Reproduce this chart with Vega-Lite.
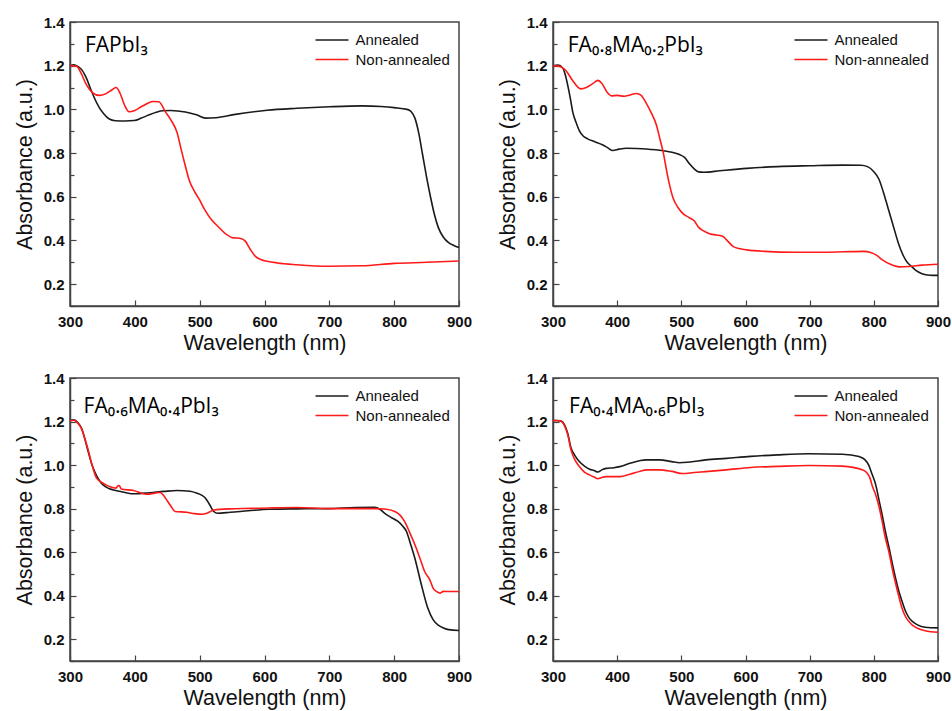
{
  "$schema": "https://vega.github.io/schema/vega-lite/v6.json",
  "background": "white",
  "padding": {"left": 13, "top": 14, "right": 5, "bottom": 5},
  "datasets": {
    "fapbi3": [
      {"series":"Annealed","wavelength":300,"absorbance":1.2},{"series":"Annealed","wavelength":306,"absorbance":1.204},{"series":"Annealed","wavelength":312,"absorbance":1.197},{"series":"Annealed","wavelength":318,"absorbance":1.182},{"series":"Annealed","wavelength":325,"absorbance":1.145},{"series":"Annealed","wavelength":332,"absorbance":1.092},{"series":"Annealed","wavelength":338,"absorbance":1.05},{"series":"Annealed","wavelength":345,"absorbance":1.009},{"series":"Annealed","wavelength":352,"absorbance":0.98},{"series":"Annealed","wavelength":360,"absorbance":0.957},{"series":"Annealed","wavelength":370,"absorbance":0.948},{"series":"Annealed","wavelength":385,"absorbance":0.947},{"series":"Annealed","wavelength":399,"absorbance":0.949},{"series":"Annealed","wavelength":410,"absorbance":0.96},{"series":"Annealed","wavelength":422,"absorbance":0.975},{"series":"Annealed","wavelength":433,"absorbance":0.987},{"series":"Annealed","wavelength":443,"absorbance":0.994},{"series":"Annealed","wavelength":455,"absorbance":0.995},{"series":"Annealed","wavelength":478,"absorbance":0.988},{"series":"Annealed","wavelength":495,"absorbance":0.975},{"series":"Annealed","wavelength":509,"absorbance":0.96},{"series":"Annealed","wavelength":525,"absorbance":0.962},{"series":"Annealed","wavelength":555,"absorbance":0.977},{"series":"Annealed","wavelength":604,"absorbance":0.996},{"series":"Annealed","wavelength":650,"absorbance":1.005},{"series":"Annealed","wavelength":700,"absorbance":1.012},{"series":"Annealed","wavelength":750,"absorbance":1.016},{"series":"Annealed","wavelength":780,"absorbance":1.013},{"series":"Annealed","wavelength":800,"absorbance":1.008},{"series":"Annealed","wavelength":820,"absorbance":1.0},{"series":"Annealed","wavelength":826,"absorbance":0.99},{"series":"Annealed","wavelength":832,"absorbance":0.96},{"series":"Annealed","wavelength":838,"absorbance":0.89},{"series":"Annealed","wavelength":844,"absorbance":0.79},{"series":"Annealed","wavelength":850,"absorbance":0.69},{"series":"Annealed","wavelength":856,"absorbance":0.6},{"series":"Annealed","wavelength":862,"absorbance":0.52},{"series":"Annealed","wavelength":868,"absorbance":0.46},{"series":"Annealed","wavelength":876,"absorbance":0.415},{"series":"Annealed","wavelength":884,"absorbance":0.39},{"series":"Annealed","wavelength":892,"absorbance":0.377},{"series":"Annealed","wavelength":900,"absorbance":0.368},
      {"series":"Non-annealed","wavelength":300,"absorbance":1.2},{"series":"Non-annealed","wavelength":310,"absorbance":1.198},{"series":"Non-annealed","wavelength":318,"absorbance":1.16},{"series":"Non-annealed","wavelength":325,"absorbance":1.114},{"series":"Non-annealed","wavelength":335,"absorbance":1.076},{"series":"Non-annealed","wavelength":345,"absorbance":1.064},{"series":"Non-annealed","wavelength":355,"absorbance":1.071},{"series":"Non-annealed","wavelength":365,"absorbance":1.09},{"series":"Non-annealed","wavelength":371,"absorbance":1.1},{"series":"Non-annealed","wavelength":377,"absorbance":1.075},{"series":"Non-annealed","wavelength":384,"absorbance":1.02},{"series":"Non-annealed","wavelength":391,"absorbance":0.989},{"series":"Non-annealed","wavelength":400,"absorbance":0.995},{"series":"Non-annealed","wavelength":410,"absorbance":1.012},{"series":"Non-annealed","wavelength":420,"absorbance":1.028},{"series":"Non-annealed","wavelength":428,"absorbance":1.036},{"series":"Non-annealed","wavelength":437,"absorbance":1.035},{"series":"Non-annealed","wavelength":447,"absorbance":0.99},{"series":"Non-annealed","wavelength":456,"absorbance":0.95},{"series":"Non-annealed","wavelength":465,"absorbance":0.895},{"series":"Non-annealed","wavelength":472,"absorbance":0.81},{"series":"Non-annealed","wavelength":478,"absorbance":0.74},{"series":"Non-annealed","wavelength":484,"absorbance":0.674},{"series":"Non-annealed","wavelength":492,"absorbance":0.625},{"series":"Non-annealed","wavelength":499,"absorbance":0.59},{"series":"Non-annealed","wavelength":508,"absorbance":0.54},{"series":"Non-annealed","wavelength":517,"absorbance":0.499},{"series":"Non-annealed","wavelength":528,"absorbance":0.465},{"series":"Non-annealed","wavelength":540,"absorbance":0.43},{"series":"Non-annealed","wavelength":552,"absorbance":0.412},{"series":"Non-annealed","wavelength":562,"absorbance":0.41},{"series":"Non-annealed","wavelength":570,"absorbance":0.398},{"series":"Non-annealed","wavelength":578,"absorbance":0.36},{"series":"Non-annealed","wavelength":586,"absorbance":0.327},{"series":"Non-annealed","wavelength":595,"absorbance":0.312},{"series":"Non-annealed","wavelength":604,"absorbance":0.305},{"series":"Non-annealed","wavelength":620,"absorbance":0.297},{"series":"Non-annealed","wavelength":650,"absorbance":0.289},{"series":"Non-annealed","wavelength":700,"absorbance":0.282},{"series":"Non-annealed","wavelength":750,"absorbance":0.284},{"series":"Non-annealed","wavelength":800,"absorbance":0.295},{"series":"Non-annealed","wavelength":850,"absorbance":0.3},{"series":"Non-annealed","wavelength":900,"absorbance":0.306}
    ],
    "fa08": [
      {"series":"Annealed","wavelength":300,"absorbance":1.2},{"series":"Annealed","wavelength":308,"absorbance":1.203},{"series":"Annealed","wavelength":315,"absorbance":1.19},{"series":"Annealed","wavelength":319,"absorbance":1.16},{"series":"Annealed","wavelength":323,"absorbance":1.11},{"series":"Annealed","wavelength":327,"absorbance":1.05},{"series":"Annealed","wavelength":331,"absorbance":0.985},{"series":"Annealed","wavelength":336,"absorbance":0.94},{"series":"Annealed","wavelength":341,"absorbance":0.903},{"series":"Annealed","wavelength":347,"absorbance":0.878},{"series":"Annealed","wavelength":354,"absorbance":0.865},{"series":"Annealed","wavelength":365,"absorbance":0.852},{"series":"Annealed","wavelength":377,"absorbance":0.838},{"series":"Annealed","wavelength":385,"absorbance":0.825},{"series":"Annealed","wavelength":393,"absorbance":0.812},{"series":"Annealed","wavelength":403,"absorbance":0.818},{"series":"Annealed","wavelength":414,"absorbance":0.822},{"series":"Annealed","wavelength":430,"absorbance":0.821},{"series":"Annealed","wavelength":445,"absorbance":0.819},{"series":"Annealed","wavelength":460,"absorbance":0.815},{"series":"Annealed","wavelength":477,"absorbance":0.808},{"series":"Annealed","wavelength":490,"absorbance":0.8},{"series":"Annealed","wavelength":498,"absorbance":0.792},{"series":"Annealed","wavelength":505,"absorbance":0.78},{"series":"Annealed","wavelength":513,"absorbance":0.75},{"series":"Annealed","wavelength":520,"absorbance":0.728},{"series":"Annealed","wavelength":527,"absorbance":0.714},{"series":"Annealed","wavelength":535,"absorbance":0.712},{"series":"Annealed","wavelength":560,"absorbance":0.719},{"series":"Annealed","wavelength":602,"absorbance":0.73},{"series":"Annealed","wavelength":650,"absorbance":0.738},{"series":"Annealed","wavelength":700,"absorbance":0.742},{"series":"Annealed","wavelength":751,"absorbance":0.745},{"series":"Annealed","wavelength":780,"absorbance":0.744},{"series":"Annealed","wavelength":790,"absorbance":0.738},{"series":"Annealed","wavelength":800,"absorbance":0.715},{"series":"Annealed","wavelength":808,"absorbance":0.68},{"series":"Annealed","wavelength":815,"absorbance":0.62},{"series":"Annealed","wavelength":822,"absorbance":0.55},{"series":"Annealed","wavelength":830,"absorbance":0.47},{"series":"Annealed","wavelength":838,"absorbance":0.39},{"series":"Annealed","wavelength":846,"absorbance":0.33},{"series":"Annealed","wavelength":852,"absorbance":0.3},{"series":"Annealed","wavelength":858,"absorbance":0.283},{"series":"Annealed","wavelength":866,"absorbance":0.262},{"series":"Annealed","wavelength":875,"absorbance":0.248},{"series":"Annealed","wavelength":887,"absorbance":0.241},{"series":"Annealed","wavelength":900,"absorbance":0.24},
      {"series":"Non-annealed","wavelength":300,"absorbance":1.2},{"series":"Non-annealed","wavelength":308,"absorbance":1.198},{"series":"Non-annealed","wavelength":315,"absorbance":1.19},{"series":"Non-annealed","wavelength":320,"absorbance":1.178},{"series":"Non-annealed","wavelength":330,"absorbance":1.135},{"series":"Non-annealed","wavelength":343,"absorbance":1.094},{"series":"Non-annealed","wavelength":352,"absorbance":1.1},{"series":"Non-annealed","wavelength":362,"absorbance":1.118},{"series":"Non-annealed","wavelength":370,"absorbance":1.133},{"series":"Non-annealed","wavelength":376,"absorbance":1.12},{"series":"Non-annealed","wavelength":384,"absorbance":1.08},{"series":"Non-annealed","wavelength":391,"absorbance":1.062},{"series":"Non-annealed","wavelength":400,"absorbance":1.064},{"series":"Non-annealed","wavelength":411,"absorbance":1.06},{"series":"Non-annealed","wavelength":420,"absorbance":1.066},{"series":"Non-annealed","wavelength":430,"absorbance":1.073},{"series":"Non-annealed","wavelength":437,"absorbance":1.065},{"series":"Non-annealed","wavelength":445,"absorbance":1.03},{"series":"Non-annealed","wavelength":453,"absorbance":0.985},{"series":"Non-annealed","wavelength":461,"absorbance":0.93},{"series":"Non-annealed","wavelength":467,"absorbance":0.86},{"series":"Non-annealed","wavelength":472,"absorbance":0.8},{"series":"Non-annealed","wavelength":477,"absorbance":0.72},{"series":"Non-annealed","wavelength":482,"absorbance":0.65},{"series":"Non-annealed","wavelength":487,"absorbance":0.595},{"series":"Non-annealed","wavelength":495,"absorbance":0.55},{"series":"Non-annealed","wavelength":503,"absorbance":0.522},{"series":"Non-annealed","wavelength":512,"absorbance":0.505},{"series":"Non-annealed","wavelength":520,"absorbance":0.49},{"series":"Non-annealed","wavelength":527,"absorbance":0.46},{"series":"Non-annealed","wavelength":534,"absorbance":0.445},{"series":"Non-annealed","wavelength":545,"absorbance":0.43},{"series":"Non-annealed","wavelength":555,"absorbance":0.425},{"series":"Non-annealed","wavelength":565,"absorbance":0.418},{"series":"Non-annealed","wavelength":573,"absorbance":0.395},{"series":"Non-annealed","wavelength":581,"absorbance":0.372},{"series":"Non-annealed","wavelength":592,"absorbance":0.362},{"series":"Non-annealed","wavelength":602,"absorbance":0.357},{"series":"Non-annealed","wavelength":630,"absorbance":0.35},{"series":"Non-annealed","wavelength":676,"absorbance":0.346},{"series":"Non-annealed","wavelength":720,"absorbance":0.346},{"series":"Non-annealed","wavelength":753,"absorbance":0.348},{"series":"Non-annealed","wavelength":784,"absorbance":0.35},{"series":"Non-annealed","wavelength":795,"absorbance":0.345},{"series":"Non-annealed","wavelength":804,"absorbance":0.333},{"series":"Non-annealed","wavelength":814,"absorbance":0.31},{"series":"Non-annealed","wavelength":825,"absorbance":0.292},{"series":"Non-annealed","wavelength":840,"absorbance":0.279},{"series":"Non-annealed","wavelength":855,"absorbance":0.281},{"series":"Non-annealed","wavelength":875,"absorbance":0.287},{"series":"Non-annealed","wavelength":900,"absorbance":0.291}
    ],
    "fa06": [
      {"series":"Annealed","wavelength":300,"absorbance":1.205},{"series":"Annealed","wavelength":306,"absorbance":1.208},{"series":"Annealed","wavelength":312,"absorbance":1.196},{"series":"Annealed","wavelength":318,"absorbance":1.168},{"series":"Annealed","wavelength":323,"absorbance":1.12},{"series":"Annealed","wavelength":328,"absorbance":1.062},{"series":"Annealed","wavelength":333,"absorbance":1.01},{"series":"Annealed","wavelength":338,"absorbance":0.97},{"series":"Annealed","wavelength":344,"absorbance":0.935},{"series":"Annealed","wavelength":351,"absorbance":0.909},{"series":"Annealed","wavelength":360,"absorbance":0.892},{"series":"Annealed","wavelength":372,"absorbance":0.882},{"series":"Annealed","wavelength":385,"absorbance":0.874},{"series":"Annealed","wavelength":398,"absorbance":0.868},{"series":"Annealed","wavelength":423,"absorbance":0.873},{"series":"Annealed","wavelength":445,"absorbance":0.879},{"series":"Annealed","wavelength":465,"absorbance":0.883},{"series":"Annealed","wavelength":485,"absorbance":0.88},{"series":"Annealed","wavelength":496,"absorbance":0.871},{"series":"Annealed","wavelength":503,"absorbance":0.862},{"series":"Annealed","wavelength":509,"absorbance":0.848},{"series":"Annealed","wavelength":515,"absorbance":0.82},{"series":"Annealed","wavelength":521,"absorbance":0.789},{"series":"Annealed","wavelength":527,"absorbance":0.779},{"series":"Annealed","wavelength":547,"absorbance":0.783},{"series":"Annealed","wavelength":575,"absorbance":0.79},{"series":"Annealed","wavelength":607,"absorbance":0.797},{"series":"Annealed","wavelength":650,"absorbance":0.799},{"series":"Annealed","wavelength":698,"absorbance":0.8},{"series":"Annealed","wavelength":740,"absorbance":0.805},{"series":"Annealed","wavelength":770,"absorbance":0.806},{"series":"Annealed","wavelength":778,"absorbance":0.797},{"series":"Annealed","wavelength":785,"absorbance":0.779},{"series":"Annealed","wavelength":795,"absorbance":0.76},{"series":"Annealed","wavelength":806,"absorbance":0.741},{"series":"Annealed","wavelength":813,"absorbance":0.72},{"series":"Annealed","wavelength":819,"absorbance":0.695},{"series":"Annealed","wavelength":825,"absorbance":0.64},{"series":"Annealed","wavelength":832,"absorbance":0.571},{"series":"Annealed","wavelength":842,"absorbance":0.45},{"series":"Annealed","wavelength":852,"absorbance":0.342},{"series":"Annealed","wavelength":860,"absorbance":0.29},{"series":"Annealed","wavelength":868,"absorbance":0.265},{"series":"Annealed","wavelength":876,"absorbance":0.252},{"series":"Annealed","wavelength":884,"absorbance":0.244},{"series":"Annealed","wavelength":900,"absorbance":0.24},
      {"series":"Non-annealed","wavelength":300,"absorbance":1.204},{"series":"Non-annealed","wavelength":306,"absorbance":1.206},{"series":"Non-annealed","wavelength":312,"absorbance":1.192},{"series":"Non-annealed","wavelength":318,"absorbance":1.165},{"series":"Non-annealed","wavelength":323,"absorbance":1.12},{"series":"Non-annealed","wavelength":328,"absorbance":1.07},{"series":"Non-annealed","wavelength":334,"absorbance":1.0},{"series":"Non-annealed","wavelength":341,"absorbance":0.94},{"series":"Non-annealed","wavelength":351,"absorbance":0.917},{"series":"Non-annealed","wavelength":362,"absorbance":0.9},{"series":"Non-annealed","wavelength":371,"absorbance":0.894},{"series":"Non-annealed","wavelength":374,"absorbance":0.905},{"series":"Non-annealed","wavelength":376,"absorbance":0.906},{"series":"Non-annealed","wavelength":379,"absorbance":0.89},{"series":"Non-annealed","wavelength":398,"absorbance":0.883},{"series":"Non-annealed","wavelength":418,"absorbance":0.866},{"series":"Non-annealed","wavelength":439,"absorbance":0.874},{"series":"Non-annealed","wavelength":444,"absorbance":0.862},{"series":"Non-annealed","wavelength":449,"absorbance":0.84},{"series":"Non-annealed","wavelength":456,"absorbance":0.81},{"series":"Non-annealed","wavelength":462,"absorbance":0.787},{"series":"Non-annealed","wavelength":480,"absorbance":0.783},{"series":"Non-annealed","wavelength":492,"absorbance":0.777},{"series":"Non-annealed","wavelength":504,"absorbance":0.774},{"series":"Non-annealed","wavelength":512,"absorbance":0.78},{"series":"Non-annealed","wavelength":522,"absorbance":0.794},{"series":"Non-annealed","wavelength":547,"absorbance":0.799},{"series":"Non-annealed","wavelength":580,"absorbance":0.801},{"series":"Non-annealed","wavelength":607,"absorbance":0.803},{"series":"Non-annealed","wavelength":650,"absorbance":0.805},{"series":"Non-annealed","wavelength":700,"absorbance":0.8},{"series":"Non-annealed","wavelength":740,"absorbance":0.8},{"series":"Non-annealed","wavelength":770,"absorbance":0.8},{"series":"Non-annealed","wavelength":785,"absorbance":0.798},{"series":"Non-annealed","wavelength":801,"absorbance":0.787},{"series":"Non-annealed","wavelength":809,"absorbance":0.77},{"series":"Non-annealed","wavelength":816,"absorbance":0.741},{"series":"Non-annealed","wavelength":824,"absorbance":0.69},{"series":"Non-annealed","wavelength":832,"absorbance":0.634},{"series":"Non-annealed","wavelength":840,"absorbance":0.57},{"series":"Non-annealed","wavelength":847,"absorbance":0.511},{"series":"Non-annealed","wavelength":855,"absorbance":0.473},{"series":"Non-annealed","wavelength":860,"absorbance":0.435},{"series":"Non-annealed","wavelength":866,"absorbance":0.418},{"series":"Non-annealed","wavelength":871,"absorbance":0.412},{"series":"Non-annealed","wavelength":876,"absorbance":0.42},{"series":"Non-annealed","wavelength":885,"absorbance":0.419},{"series":"Non-annealed","wavelength":900,"absorbance":0.419}
    ],
    "fa04": [
      {"series":"Annealed","wavelength":300,"absorbance":1.204},{"series":"Annealed","wavelength":305,"absorbance":1.205},{"series":"Annealed","wavelength":312,"absorbance":1.203},{"series":"Annealed","wavelength":318,"absorbance":1.185},{"series":"Annealed","wavelength":323,"absorbance":1.145},{"series":"Annealed","wavelength":328,"absorbance":1.08},{"series":"Annealed","wavelength":334,"absorbance":1.045},{"series":"Annealed","wavelength":341,"absorbance":1.016},{"series":"Annealed","wavelength":349,"absorbance":0.995},{"series":"Annealed","wavelength":357,"absorbance":0.981},{"series":"Annealed","wavelength":364,"absorbance":0.975},{"series":"Annealed","wavelength":370,"absorbance":0.968},{"series":"Annealed","wavelength":376,"absorbance":0.978},{"series":"Annealed","wavelength":383,"absorbance":0.985},{"series":"Annealed","wavelength":395,"absorbance":0.988},{"series":"Annealed","wavelength":404,"absorbance":0.993},{"series":"Annealed","wavelength":420,"absorbance":1.008},{"series":"Annealed","wavelength":435,"absorbance":1.02},{"series":"Annealed","wavelength":445,"absorbance":1.024},{"series":"Annealed","wavelength":466,"absorbance":1.024},{"series":"Annealed","wavelength":485,"absorbance":1.016},{"series":"Annealed","wavelength":497,"absorbance":1.011},{"series":"Annealed","wavelength":510,"absorbance":1.013},{"series":"Annealed","wavelength":538,"absorbance":1.024},{"series":"Annealed","wavelength":570,"absorbance":1.031},{"series":"Annealed","wavelength":608,"absorbance":1.04},{"series":"Annealed","wavelength":650,"absorbance":1.047},{"series":"Annealed","wavelength":699,"absorbance":1.052},{"series":"Annealed","wavelength":751,"absorbance":1.05},{"series":"Annealed","wavelength":777,"absorbance":1.039},{"series":"Annealed","wavelength":786,"absorbance":1.025},{"series":"Annealed","wavelength":792,"absorbance":1.0},{"series":"Annealed","wavelength":797,"absorbance":0.96},{"series":"Annealed","wavelength":803,"absorbance":0.909},{"series":"Annealed","wavelength":808,"absorbance":0.84},{"series":"Annealed","wavelength":813,"absorbance":0.771},{"series":"Annealed","wavelength":818,"absorbance":0.695},{"series":"Annealed","wavelength":824,"absorbance":0.617},{"series":"Annealed","wavelength":829,"absorbance":0.545},{"series":"Annealed","wavelength":834,"absorbance":0.479},{"series":"Annealed","wavelength":839,"absorbance":0.42},{"series":"Annealed","wavelength":844,"absorbance":0.374},{"series":"Annealed","wavelength":850,"absorbance":0.325},{"series":"Annealed","wavelength":855,"absorbance":0.298},{"series":"Annealed","wavelength":860,"absorbance":0.282},{"series":"Annealed","wavelength":868,"absorbance":0.266},{"series":"Annealed","wavelength":880,"absorbance":0.255},{"series":"Annealed","wavelength":900,"absorbance":0.252},
      {"series":"Non-annealed","wavelength":300,"absorbance":1.204},{"series":"Non-annealed","wavelength":305,"absorbance":1.205},{"series":"Non-annealed","wavelength":312,"absorbance":1.202},{"series":"Non-annealed","wavelength":318,"absorbance":1.18},{"series":"Non-annealed","wavelength":323,"absorbance":1.14},{"series":"Non-annealed","wavelength":328,"absorbance":1.07},{"series":"Non-annealed","wavelength":334,"absorbance":1.025},{"series":"Non-annealed","wavelength":341,"absorbance":0.993},{"series":"Non-annealed","wavelength":349,"absorbance":0.968},{"series":"Non-annealed","wavelength":357,"absorbance":0.955},{"series":"Non-annealed","wavelength":364,"absorbance":0.945},{"series":"Non-annealed","wavelength":370,"absorbance":0.937},{"series":"Non-annealed","wavelength":376,"absorbance":0.943},{"series":"Non-annealed","wavelength":383,"absorbance":0.947},{"series":"Non-annealed","wavelength":404,"absorbance":0.947},{"series":"Non-annealed","wavelength":420,"absorbance":0.958},{"series":"Non-annealed","wavelength":436,"absorbance":0.972},{"series":"Non-annealed","wavelength":445,"absorbance":0.978},{"series":"Non-annealed","wavelength":466,"absorbance":0.978},{"series":"Non-annealed","wavelength":485,"absorbance":0.971},{"series":"Non-annealed","wavelength":502,"absorbance":0.961},{"series":"Non-annealed","wavelength":520,"absorbance":0.966},{"series":"Non-annealed","wavelength":538,"absorbance":0.97},{"series":"Non-annealed","wavelength":570,"absorbance":0.978},{"series":"Non-annealed","wavelength":608,"absorbance":0.989},{"series":"Non-annealed","wavelength":650,"absorbance":0.994},{"series":"Non-annealed","wavelength":699,"absorbance":0.998},{"series":"Non-annealed","wavelength":751,"absorbance":0.995},{"series":"Non-annealed","wavelength":782,"absorbance":0.978},{"series":"Non-annealed","wavelength":789,"absorbance":0.965},{"series":"Non-annealed","wavelength":794,"absorbance":0.94},{"series":"Non-annealed","wavelength":798,"absorbance":0.9},{"series":"Non-annealed","wavelength":803,"absorbance":0.863},{"series":"Non-annealed","wavelength":808,"absorbance":0.81},{"series":"Non-annealed","wavelength":813,"absorbance":0.741},{"series":"Non-annealed","wavelength":818,"absorbance":0.665},{"series":"Non-annealed","wavelength":824,"absorbance":0.594},{"series":"Non-annealed","wavelength":829,"absorbance":0.52},{"series":"Non-annealed","wavelength":834,"absorbance":0.456},{"series":"Non-annealed","wavelength":839,"absorbance":0.396},{"series":"Non-annealed","wavelength":844,"absorbance":0.342},{"series":"Non-annealed","wavelength":850,"absorbance":0.3},{"series":"Non-annealed","wavelength":855,"absorbance":0.28},{"series":"Non-annealed","wavelength":860,"absorbance":0.265},{"series":"Non-annealed","wavelength":870,"absorbance":0.248},{"series":"Non-annealed","wavelength":880,"absorbance":0.239},{"series":"Non-annealed","wavelength":900,"absorbance":0.232}
    ]
  },
  "columns": 2,
  "spacing": {"row": 72, "column": 94},
  "bounds": "flush",
  "resolve": {"scale": {"color": "independent"}, "legend": {"color": "independent"}},
  "concat": [
    {
      "width": 389, "height": 284,
      "resolve": {"axis": {"y": "independent"}},
      "layer": [
        {
          "data": {"name": "fapbi3"},
          "mark": {"type": "line", "strokeWidth": 1.6, "interpolate": "monotone"},
          "encoding": {
            "x": {"field": "wavelength", "type": "quantitative", "scale": {"domain": [300, 900], "nice": false}, "axis": {"title": "Wavelength (nm)", "values": [300,350,400,450,500,550,600,650,700,750,800,850,900], "labelExpr": "datum.value % 100 === 0 ? datum.label : ''", "tickSize": {"condition": {"test": "datum.value % 100 === 0", "value": -6}, "value": -4}, "labelPadding": 14}},
            "y": {"field": "absorbance", "type": "quantitative", "scale": {"domain": [0.1, 1.4], "nice": false}, "axis": {"orient": "left", "title": "Absorbance (a.u.)", "values": [0.2,0.4,0.6,0.8,1.0,1.2,1.4], "format": ".1f", "tickSize": -6, "labelPadding": 12}},
            "color": {"field": "series", "type": "nominal", "scale": {"domain": ["Annealed", "Non-annealed"], "range": ["#1a1a1a", "#ff1a1a"]}, "legend": {"title": null}}
          }
        },
        {
          "data": {"values": [{"label": "FAPbI₃"}]},
          "mark": {"type": "text", "font": "Open Sans", "fontSize": 21, "align": "left", "baseline": "alphabetic", "color": "#000"},
          "encoding": {"x": {"datum": 323, "type": "quantitative"}, "y": {"datum": 1.262, "type": "quantitative", "axis": {"orient": "left", "title": null, "labels": false, "domain": false, "values": [0.1,0.3,0.5,0.7,0.9,1.1,1.3], "tickSize": -4}}, "text": {"field": "label"}}
        }
      ]
    },
    {
      "width": 385, "height": 284,
      "resolve": {"axis": {"y": "independent"}},
      "layer": [
        {
          "data": {"name": "fa08"},
          "mark": {"type": "line", "strokeWidth": 1.6, "interpolate": "monotone"},
          "encoding": {
            "x": {"field": "wavelength", "type": "quantitative", "scale": {"domain": [300, 900], "nice": false}, "axis": {"title": "Wavelength (nm)", "values": [300,350,400,450,500,550,600,650,700,750,800,850,900], "labelExpr": "datum.value % 100 === 0 ? datum.label : ''", "tickSize": {"condition": {"test": "datum.value % 100 === 0", "value": -6}, "value": -4}, "labelPadding": 14}},
            "y": {"field": "absorbance", "type": "quantitative", "scale": {"domain": [0.1, 1.4], "nice": false}, "axis": {"orient": "left", "title": "Absorbance (a.u.)", "values": [0.2,0.4,0.6,0.8,1.0,1.2,1.4], "format": ".1f", "tickSize": -6, "labelPadding": 12}},
            "color": {"field": "series", "type": "nominal", "scale": {"domain": ["Annealed", "Non-annealed"], "range": ["#1a1a1a", "#ff1a1a"]}, "legend": {"title": null}}
          }
        },
        {
          "data": {"values": [{"label": "FA₀.₈MA₀.₂PbI₃"}]},
          "mark": {"type": "text", "font": "Open Sans", "fontSize": 21, "align": "left", "baseline": "alphabetic", "color": "#000"},
          "encoding": {"x": {"datum": 323, "type": "quantitative"}, "y": {"datum": 1.262, "type": "quantitative", "axis": {"orient": "left", "title": null, "labels": false, "domain": false, "values": [0.1,0.3,0.5,0.7,0.9,1.1,1.3], "tickSize": -4}}, "text": {"field": "label"}}
        }
      ]
    },
    {
      "width": 389, "height": 283,
      "resolve": {"axis": {"y": "independent"}},
      "layer": [
        {
          "data": {"name": "fa06"},
          "mark": {"type": "line", "strokeWidth": 1.6, "interpolate": "monotone"},
          "encoding": {
            "x": {"field": "wavelength", "type": "quantitative", "scale": {"domain": [300, 900], "nice": false}, "axis": {"title": "Wavelength (nm)", "values": [300,350,400,450,500,550,600,650,700,750,800,850,900], "labelExpr": "datum.value % 100 === 0 ? datum.label : ''", "tickSize": {"condition": {"test": "datum.value % 100 === 0", "value": -6}, "value": -4}, "labelPadding": 14}},
            "y": {"field": "absorbance", "type": "quantitative", "scale": {"domain": [0.1, 1.4], "nice": false}, "axis": {"orient": "left", "title": "Absorbance (a.u.)", "values": [0.2,0.4,0.6,0.8,1.0,1.2,1.4], "format": ".1f", "tickSize": -6, "labelPadding": 12}},
            "color": {"field": "series", "type": "nominal", "scale": {"domain": ["Annealed", "Non-annealed"], "range": ["#1a1a1a", "#ff1a1a"]}, "legend": {"title": null}}
          }
        },
        {
          "data": {"values": [{"label": "FA₀.₆MA₀.₄PbI₃"}]},
          "mark": {"type": "text", "font": "Open Sans", "fontSize": 21, "align": "left", "baseline": "alphabetic", "color": "#000"},
          "encoding": {"x": {"datum": 321, "type": "quantitative"}, "y": {"datum": 1.241, "type": "quantitative", "axis": {"orient": "left", "title": null, "labels": false, "domain": false, "values": [0.1,0.3,0.5,0.7,0.9,1.1,1.3], "tickSize": -4}}, "text": {"field": "label"}}
        }
      ]
    },
    {
      "width": 385, "height": 283,
      "resolve": {"axis": {"y": "independent"}},
      "layer": [
        {
          "data": {"name": "fa04"},
          "mark": {"type": "line", "strokeWidth": 1.6, "interpolate": "monotone"},
          "encoding": {
            "x": {"field": "wavelength", "type": "quantitative", "scale": {"domain": [300, 900], "nice": false}, "axis": {"title": "Wavelength (nm)", "values": [300,350,400,450,500,550,600,650,700,750,800,850,900], "labelExpr": "datum.value % 100 === 0 ? datum.label : ''", "tickSize": {"condition": {"test": "datum.value % 100 === 0", "value": -6}, "value": -4}, "labelPadding": 14}},
            "y": {"field": "absorbance", "type": "quantitative", "scale": {"domain": [0.1, 1.4], "nice": false}, "axis": {"orient": "left", "title": "Absorbance (a.u.)", "values": [0.2,0.4,0.6,0.8,1.0,1.2,1.4], "format": ".1f", "tickSize": -6, "labelPadding": 12}},
            "color": {"field": "series", "type": "nominal", "scale": {"domain": ["Annealed", "Non-annealed"], "range": ["#1a1a1a", "#ff1a1a"]}, "legend": {"title": null}}
          }
        },
        {
          "data": {"values": [{"label": "FA₀.₄MA₀.₆PbI₃"}]},
          "mark": {"type": "text", "font": "Open Sans", "fontSize": 21, "align": "left", "baseline": "alphabetic", "color": "#000"},
          "encoding": {"x": {"datum": 325, "type": "quantitative"}, "y": {"datum": 1.241, "type": "quantitative", "axis": {"orient": "left", "title": null, "labels": false, "domain": false, "values": [0.1,0.3,0.5,0.7,0.9,1.1,1.3], "tickSize": -4}}, "text": {"field": "label"}}
        }
      ]
    }
  ],
  "config": {
    "font": "Liberation Sans",
    "view": {"stroke": "#444", "strokeWidth": 1.5},
    "axis": {
      "grid": false,
      "domainColor": "#444", "domainWidth": 1.5,
      "tickColor": "#444", "tickWidth": 1.2,
      "labelFont": "Liberation Sans", "labelFontWeight": "bold", "labelFontSize": 15, "labelColor": "#111",
      "labelFlush": false, "labelOverlap": false,
      "titleFont": "Liberation Sans", "titleFontWeight": "normal", "titleFontSize": 21.5, "titleColor": "#111"
    },
    "axisX": {"titlePadding": 3},
    "axisY": {"titlePadding": 7},
    "legend": {
      "orient": "top-right", "offset": 9, "padding": 0,
      "labelFont": "Liberation Sans", "labelFontSize": 15, "labelColor": "#111", "labelOffset": 14.5,
      "symbolType": "M-2,0H2", "symbolSize": 272, "symbolStrokeWidth": 1.5, "rowPadding": 2.5
    }
  }
}
